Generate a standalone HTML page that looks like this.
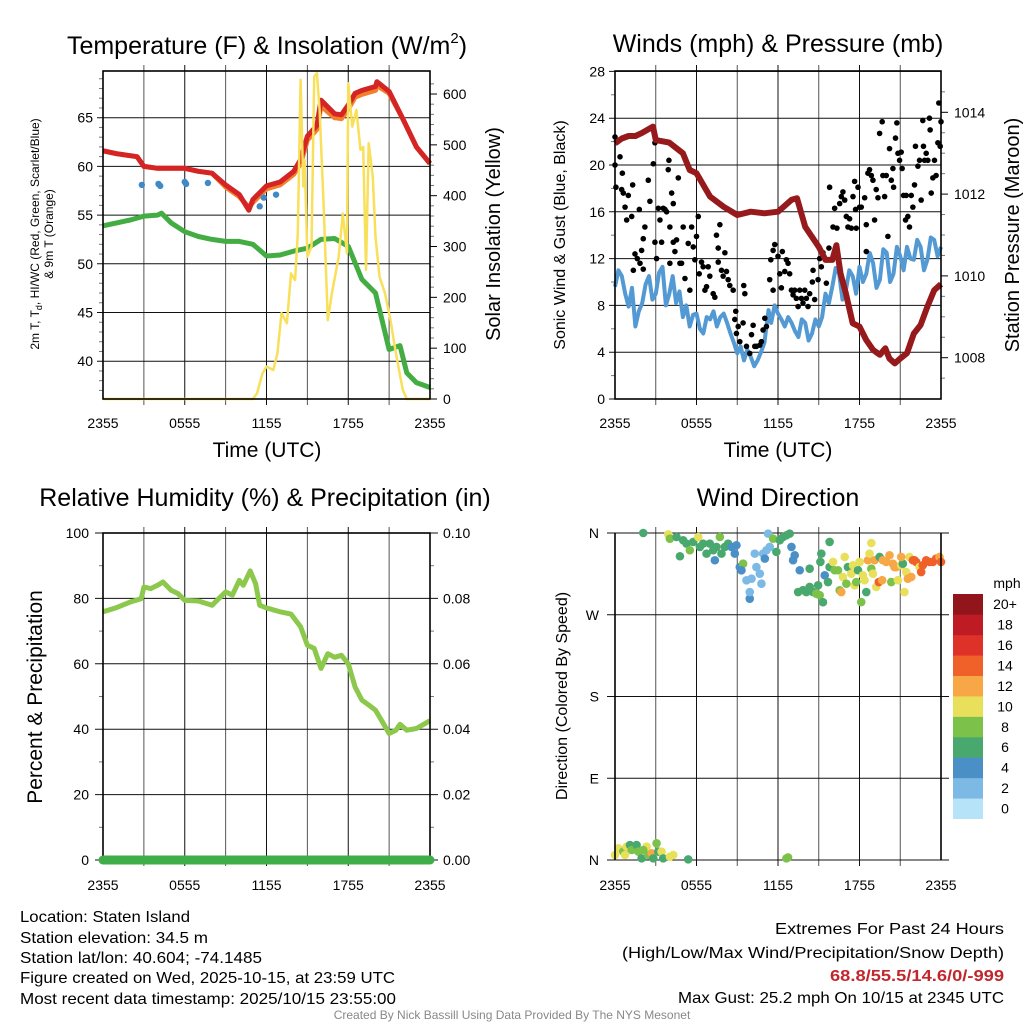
<!DOCTYPE html>
<html><head><meta charset="utf-8"><style>
html,body{margin:0;padding:0;background:#fff;}
svg{display:block;font-family:"Liberation Sans",Arial,sans-serif;}
</style></head><body>
<svg id="chart" width="1024" height="1024" viewBox="0 0 1024 1024" xmlns="http://www.w3.org/2000/svg">
<g id="g1"></g>
<g id="g2"></g>
<g id="g3"></g>
<g id="g4"></g>
<g font-size="16" fill="#000">
<text x="20" y="922" textLength="170" lengthAdjust="spacingAndGlyphs">Location: Staten Island</text>
<text x="20" y="943" textLength="188" lengthAdjust="spacingAndGlyphs">Station elevation: 34.5 m</text>
<text x="20" y="963" textLength="242" lengthAdjust="spacingAndGlyphs">Station lat/lon: 40.604; -74.1485</text>
<text x="20" y="983" textLength="375" lengthAdjust="spacingAndGlyphs">Figure created on Wed, 2025-10-15, at 23:59 UTC</text>
<text x="20" y="1004" textLength="376" lengthAdjust="spacingAndGlyphs">Most recent data timestamp: 2025/10/15 23:55:00</text>
<text x="1004" y="934" text-anchor="end" textLength="229" lengthAdjust="spacingAndGlyphs">Extremes For Past 24 Hours</text>
<text x="1004" y="958" text-anchor="end" textLength="382" lengthAdjust="spacingAndGlyphs">(High/Low/Max Wind/Precipitation/Snow Depth)</text>
<text x="1004" y="981" text-anchor="end" textLength="174" lengthAdjust="spacingAndGlyphs" font-weight="bold" fill="#c1272d">68.8/55.5/14.6/0/-999</text>
<text x="1004" y="1003" text-anchor="end" textLength="326" lengthAdjust="spacingAndGlyphs">Max Gust: 25.2 mph On 10/15 at 2345 UTC</text>
<text x="512" y="1019" text-anchor="middle" font-size="12" fill="#888">Created By Nick Bassill Using Data Provided By The NYS Mesonet</text>
</g>
</svg>
<script>
// ---------- DATA ----------
const tempHours=[0,1,2,2.5,3,4,5,6,7,8,9,10,10.7,11,12,13,14,14.5,15,15.7,16,17,17.5,18,18.5,19,20,20.1,21,22,23,24];
const tempRed=[61.6,61.3,61.1,61.0,60.0,59.8,59.8,59.8,59.5,59.3,58.1,57.1,55.5,56.6,58.0,58.4,59.5,60.7,63.1,64.2,66.8,65.4,65.3,66.3,67.5,67.8,68.2,68.7,67.7,64.9,62.0,60.3];
const tempOrange=[61.6,61.3,61.1,61.0,60.0,59.8,59.8,59.8,59.5,59.3,57.9,56.9,55.8,56.3,57.7,58.1,59.2,60.3,62.7,63.8,66.2,65.0,64.9,65.9,67.1,67.4,67.8,68.3,67.5,64.9,62.0,60.3];
const wcHours=[2.85,4.07,4.2,6.0,6.1,7.7,11.5,11.8,12.7];
const wcVals=[58.1,58.2,58.0,58.4,58.2,58.3,55.9,56.8,57.1];
const dewHours=[0,1,2,3,4,4.3,5,6,7,8,9,10,11,12,13,14,15,16,17,18,19,20,21,21.8,22.3,23,24];
const dewVals=[53.9,54.2,54.5,54.9,55.0,55.2,54.2,53.3,52.8,52.5,52.3,52.3,52.0,50.8,50.9,51.3,51.6,52.5,52.6,51.8,48.4,47.0,41.2,41.6,38.8,37.8,37.3];
const solarHours=[0,11,11.3,11.7,12,12.5,12.8,13.1,13.5,13.8,14.1,14.3,14.5,14.7,14.8,15,15.3,15.5,15.7,15.9,16.2,16.5,16.8,17.3,17.6,17.9,18,18.3,18.6,18.9,19.1,19.3,19.5,19.8,20,20.3,20.7,21.1,21.5,22,22.3,24];
const solarVals=[0,0,11,50,64,57,90,169,149,247,234,326,628,418,470,280,300,634,641,569,378,155,208,280,365,287,621,536,569,490,496,254,503,437,319,240,208,155,90,18,0,0];
const presHours=[0,0.5,1,1.5,2,2.8,3,4,5,5.5,6,7,8,9,10,11,12,13,13.4,14,15,15.5,16,16.3,16.6,17,17.5,18,18.5,19,19.5,19.9,20.2,20.6,21,21.5,22,22.5,23,23.5,24];
const presVals=[1013.24,1013.36,1013.42,1013.42,1013.5,1013.65,1013.32,1013.26,1013.0,1012.59,1012.51,1011.94,1011.69,1011.49,1011.57,1011.53,1011.57,1011.86,1011.9,1011.2,1010.71,1010.39,1010.39,1010.75,1010.06,1009.57,1008.84,1008.76,1008.43,1008.19,1008.07,1008.23,1007.98,1007.86,1007.98,1008.11,1008.59,1008.8,1009.25,1009.65,1009.8];
const windHours=[0,0.25,0.5,0.75,1,1.25,1.5,1.75,2,2.25,2.5,2.75,3,3.25,3.5,3.75,4,4.25,4.5,4.75,5,5.25,5.5,5.75,6,6.25,6.5,6.75,7,7.25,7.5,7.75,8,8.25,8.5,8.75,9,9.25,9.5,9.75,10,10.25,10.5,10.75,11,11.3,11.5,11.75,12,12.25,12.5,12.75,13,13.25,13.5,13.75,14,14.25,14.5,14.75,15,15.25,15.5,15.75,16,16.25,16.5,16.75,17,17.25,17.5,17.75,18,18.25,18.5,18.75,19,19.25,19.5,19.75,20,20.25,20.5,20.75,21,21.25,21.5,21.75,22,22.25,22.5,22.75,23,23.25,23.5,23.75,24];
const windVals=[9.6,11.0,10.5,9.0,7.9,9.5,6.2,7.5,8.2,9.8,10.5,8.5,9.0,10.8,11.3,8.0,9.0,10.5,8.2,9.2,7.0,8.0,6.2,7.2,7.3,6.0,5.6,7.0,6.8,7.5,6.2,7.0,7.3,6.5,5.6,4.8,3.9,4.5,3.3,4.2,3.6,2.8,3.3,4.0,4.8,7.6,6.5,8.0,7.3,6.8,6.2,7.0,6.5,5.8,5.3,6.8,6.5,5.0,5.6,6.8,6.2,7.0,9.0,8.2,9.6,11.2,10.7,8.5,9.3,11.0,10.5,9.0,11.3,10.0,10.7,12.5,11.6,9.5,10.2,12.8,12.5,10.0,10.7,13.0,12.2,11.0,13.0,12.0,11.9,13.6,13.0,11.0,11.9,13.8,13.6,12.2,13.0];
const gustHours=[0,0,0.37,0.07,0.49,0.54,0.61,0.98,1.3,0.74,0.86,1.23,1.79,1.47,1.64,1.84,1.35,1.96,2.08,2.08,2.2,2.45,2.57,2.82,2.94,2.94,3.06,3.19,3.31,3.43,3.55,3.68,3.8,3.92,3.97,4.04,4.04,4.17,4.29,4.29,4.41,4.53,4.66,4.78,4.9,5.02,5.15,5.39,5.51,5.64,5.76,5.88,6.0,6.13,6.2,6.37,6.49,6.62,6.74,6.86,6.98,7.23,7.35,7.47,7.6,7.6,7.72,7.84,7.96,8.09,8.21,8.33,8.45,8.7,8.82,8.89,8.94,9.07,9.19,9.43,9.48,9.56,9.68,9.92,10.05,10.17,10.29,10.41,10.66,10.78,10.9,11.03,11.15,11.39,11.47,11.64,11.64,11.76,12.0,12.13,12.25,12.32,12.5,12.62,12.74,12.86,12.99,13.11,13.23,13.35,13.48,13.6,13.72,13.84,13.97,14.09,14.21,14.33,14.53,14.58,14.7,14.95,15.07,15.19,15.31,15.56,15.75,15.8,16.05,16.17,16.34,16.54,16.66,16.78,16.91,17.03,17.15,17.27,17.4,17.52,17.64,17.71,17.76,17.89,18.01,18.13,18.38,18.5,18.5,18.62,18.74,18.87,18.99,19.11,19.23,19.36,19.48,19.67,19.72,19.85,19.97,20.09,20.21,20.34,20.46,20.51,20.65,20.75,20.83,20.95,21.07,21.14,21.24,21.39,21.44,21.56,21.68,21.81,21.93,22.05,22.12,22.3,22.42,22.54,22.66,22.71,22.79,22.91,23.03,23.15,23.2,23.28,23.4,23.52,23.64,23.77,23.84,23.94,24];
const gustVals=[22.4,20.0,20.7,18.1,17.9,19.3,17.6,17.4,18.3,16.4,15.3,15.6,16.2,12.4,12.0,11.6,11.0,12.7,13.7,11.1,14.7,18.7,16.9,20.1,21.9,13.4,12.0,16.3,15.3,13.4,16.3,16.2,16.0,19.6,20.4,14.7,11.6,17.6,16.7,13.4,12.6,13.6,18.9,11.6,11.6,14.7,10.3,13.3,9.3,14.7,13.0,11.9,13.9,15.6,10.7,11.7,11.3,9.3,9.6,11.3,10.5,9.0,8.7,14.0,12.9,11.7,14.9,11.0,10.5,12.5,10.9,10.2,9.7,9.3,6.8,7.5,5.6,6.2,4.9,6.5,9.7,9.0,4.5,3.9,5.5,6.3,4.5,4.5,4.6,4.9,5.9,6.9,6.2,10.2,11.9,9.3,12.7,13.2,12.2,10.7,9.5,12.6,10.9,11.9,11.6,10.7,9.3,8.9,9.3,8.6,7.9,9.3,8.6,8.2,9.3,8.6,7.9,9.0,10.0,11.0,8.5,10.2,12.0,11.3,12.5,9.9,12.9,18.1,14.7,16.3,14.6,16.7,17.3,17.7,17.0,15.6,14.7,15.4,14.6,17.3,18.6,16.2,14.6,18.1,16.4,16.4,17.2,12.6,14.9,19.3,19.6,19.1,18.7,15.3,17.9,17.2,22.7,23.7,19.1,17.3,19.1,13.9,21.4,18.7,19.7,18.1,22.3,23.6,21.0,20.4,21.1,19.7,17.4,15.3,17.4,15.6,14.7,17.4,16.4,18.3,21.6,19.9,20.4,17.0,23.8,21.6,20.4,21.0,20.4,24.0,23.0,17.6,18.9,20.4,19.1,21.9,25.3,21.6,23.7];
const rhHours=[0,1,2,2.8,3,3.5,4,4.4,5,5.5,6,7,8,9,9.5,10,10.3,10.8,11.2,11.5,12,13,13.8,14.5,15,15.5,16,16.5,17,17.5,18,18.5,19,19.5,20,20.5,21,21.5,21.8,22.3,23,24];
const rhVals=[75.9,77.2,78.9,79.9,83.5,83.0,84.0,85.0,82.5,81.5,79.4,79.2,77.9,82.0,81.0,85.5,84.0,88.4,84.5,77.9,77.1,75.9,75.2,71.3,65.7,64.7,58.6,63.1,62.0,62.6,60.0,52.9,48.9,47.4,45.8,42.3,38.7,39.7,41.5,39.7,40.2,42.6];
const precipHours=[0,24];
const precipVals=[0,0];
const dirHours=[2.08,3.92,4.04,4.53,4.78,5.02,5.27,5.51,5.76,6.13,6.25,6.49,6.74,6.98,7.23,7.35,7.47,7.72,7.84,8.09,8.33,8.58,8.82,8.94,9.19,9.43,9.31,9.68,9.92,9.92,10.05,10.29,10.41,10.66,10.78,10.9,11.03,11.15,11.27,11.39,11.64,11.88,12.13,12.37,12.62,12.86,12.99,13.11,13.23,13.48,13.6,13.84,14.09,14.33,14.33,14.58,14.82,14.95,15.07,15.12,15.19,15.31,15.44,15.68,15.8,15.8,16.05,16.17,16.42,16.54,16.66,16.78,16.91,17.03,17.15,17.4,17.52,17.64,17.76,17.89,18.01,18.13,18.25,18.38,18.5,18.62,18.74,18.87,18.99,19.11,19.23,19.42,19.48,19.67,19.72,19.97,20.21,20.34,20.46,20.58,20.7,20.83,21.07,21.19,21.31,21.44,21.56,21.68,21.81,21.93,22.05,22.17,22.42,22.54,22.66,22.91,23.15,23.4,23.64,23.89,24,18.87,21.07,
0,0.25,0.61,0.86,1.1,1.23,1.59,1.72,1.96,2.33,2.45,2.7,2.82,3.06,3.19,3.43,3.55,4.04,4.29,5.39,12.62,12.74,0.74,2.08];
const dirVals=[360,358.5,353.7,355.6,334.4,352,348.3,341,350.2,355.6,344.7,348.3,337.3,348.3,341,330,344.7,355.6,337.3,344.7,348.3,344.7,337.3,346.5,322.5,326.2,318.9,307.9,287.7,295,309.7,337.3,322.5,315.2,304.2,337.3,331.8,341,359.3,344.7,353.7,339.2,352,355.6,357.4,359.3,344.7,330,335.5,295,319,297,295,320.7,300.6,295,293.2,302.4,291.5,328.1,337.3,283.8,313.4,306,350.2,322.5,328.1,319,319,296.9,295,311.6,333.6,304.2,322.5,315.2,324.4,302.4,306,319,328.1,284,313.4,308,295,330,337.3,320.7,315.2,330,300.6,306,333.6,308,330,328.1,335.5,306,326.2,322.5,322.5,308,324.4,326.2,295,317,309.7,333.6,311.6,330,330,328.1,322.5,317,324.4,330,328.1,328.1,331.8,333.6,328.1,349,333.6,
5.5,12.9,9.2,14.7,16.5,11,16.5,9.2,1.8,14.7,5.5,7.4,1.8,18.4,9.2,9.2,1.8,3.7,5.5,0.7,1.8,2.9,5.5,11];
const dirSpeeds=[6,10,8,6,6,6,6,8,6,10,6,6,6,6,6,4,6,8,6,6,6,4,4,4,4,8,4,2,4,2,2,2,2,2,2,2,4,2,2,2,8,6,6,6,6,6,4,4,4,6,4,6,6,6,6,6,8,6,8,6,6,6,4,6,6,6,10,8,8,8,12,10,10,8,6,10,10,10,8,6,10,8,10,10,6,12,10,8,10,12,10,14,6,12,12,12,12,8,12,12,12,10,10,6,10,10,12,10,12,14,14,14,10,14,14,14,14,14,14,12,14,10,12,
10,10,8,10,6,8,6,8,6,10,8,12,6,8,6,10,6,10,10,6,8,8,10,8];
const cbLabels=["0","2","4","6","8","10","12","14","16","18","20+"];
const cbColors=["#b6e3f8","#7db9e5","#4a8fc6","#49a86e","#7cc24a","#e8e05a","#f7a746","#f0612a","#de3128","#bf1b25","#93151c"];
const hourTicks=["2355","0555","1155","1755","2355"];

// ---------- HELPERS ----------
const NS="http://www.w3.org/2000/svg";
function mk(parent,tag,attrs){const e=document.createElementNS(NS,tag);for(const k in attrs)e.setAttribute(k,attrs[k]);parent.appendChild(e);return e;}
function txt(parent,x,y,s,size,anchor,rot){const t=mk(parent,"text",{x:x,y:y,"font-size":size,"text-anchor":anchor||"middle",fill:"#000"});if(rot)t.setAttribute("transform","rotate(-90 "+x+" "+y+")");t.textContent=s;return t;}
function linePath(xs,ys,sx,sy){return xs.map((h,i)=>(i?"L":"M")+sx(h).toFixed(1)+","+sy(ys[i]).toFixed(1)).join("");}
function frame(g,x0,y0,x1,y1){
  for(let k=1;k<8;k++){const x=x0+(x1-x0)*k/8;const l=mk(g,"line",{x1:x,y1:y0-6,x2:x,y2:y1+6,stroke:k%2?"#555":"#111","stroke-width":1});
    
    }
}
function border(g,x0,y0,x1,y1){
  const r=mk(g,"rect",{x:x0,y:y0,width:x1-x0,height:y1-y0,fill:"none",stroke:"#000","stroke-width":1.6});
  
  
}
function xlabels(g,x0,x1,y){
  hourTicks.forEach((s,i)=>{const t=txt(g,x0+(x1-x0)*i/4,y,s,14);
    
    });
}
function hgrid(g,x0,x1,y,extL,extR){const l=mk(g,"line",{x1:x0-extL,y1:y,x2:x1+extR,y2:y,stroke:"#111","stroke-width":1});
  
  }
function minor(g,x,y,len){mk(g,"line",{x1:x,y1:y,x2:x+len,y2:y,stroke:"#777","stroke-width":1});}

// ---------- PANEL 1 ----------
(function(){
  const g=document.getElementById("g1");
  const X0=103,X1=430,Y0=71,Y1=399;
  const sx=h=>X0+(X1-X0)*h/24;
  const sy=v=>117.7+(65-v)*9.74;
  const sr=v=>399-v*0.5083;
  frame(g,X0,Y0,X1,Y1);
  [40,45,50,55,60,65].forEach(v=>{hgrid(g,X0,X1,sy(v),6,0);const t=txt(g,X0-10,sy(v)+5,String(v),14,"end");
    
    });
  for(let v=37;v<=69;v++) if(v%5) minor(g,X0-4,sy(v),4);
  [0,100,200,300,400,500,600].forEach(v=>{mk(g,"line",{x1:X1,y1:sr(v),x2:X1+7,y2:sr(v),stroke:"#000"});const t=txt(g,X1+13,sr(v)+5,String(v),14,"start");
    
    });
  for(let v=20;v<640;v+=20) if(v%100) minor(g,X1,sr(v),4);
  let p;
  p=mk(g,"path",{d:linePath(dewHours,dewVals,sx,sy),fill:"none",stroke:"#43ad43","stroke-width":5,"stroke-linejoin":"round"});
  
  p=mk(g,"path",{d:linePath(tempHours,tempOrange,sx,sy),fill:"none",stroke:"#f47f2b","stroke-width":5,"stroke-linejoin":"round"});
  
  p=mk(g,"path",{d:linePath(tempHours,tempRed,sx,sy),fill:"none",stroke:"#d42425","stroke-width":5,"stroke-linejoin":"round"});
  
  wcHours.forEach((h,i)=>{const c=mk(g,"circle",{cx:sx(h),cy:sy(wcVals[i]),r:3.2,fill:"#3f8ac6"});
    });
  p=mk(g,"path",{d:linePath(solarHours,solarVals,sx,sr),fill:"none",stroke:"#f8e05a","stroke-width":2.5,"stroke-linejoin":"round"});
  
  border(g,X0,Y0,X1,Y1);
  xlabels(g,X0,X1,428);
  let t=txt(g,267,457,"Time (UTC)",21);
  t=mk(g,"text",{x:267,y:54,"font-size":25,"text-anchor":"middle"});t.innerHTML='Temperature (F) &amp; Insolation (W/m<tspan font-size="15" dy="-11">2</tspan><tspan dy="11">)</tspan>';
  
  t=mk(g,"text",{x:39,y:234,"font-size":12,"text-anchor":"middle",transform:"rotate(-90 39 234)"});t.innerHTML='2m T, T<tspan font-size="9" dy="3">d</tspan><tspan dy="-3">, HI/WC (Red, Green, Scarlet/Blue)</tspan>';
  
  t=txt(g,53,234,"& 9m T (Orange)",12,"middle",true);
  t=txt(g,500,234,"Solar Insolation (Yellow)",20,"middle",true);
})();

// ---------- PANEL 2 ----------
(function(){
  const g=document.getElementById("g2");
  const X0=615,X1=941,Y0=71,Y1=399;
  const sx=h=>X0+(X1-X0)*h/24;
  const sy=v=>399-v*11.7;
  const sp=v=>357.7-(v-1008)*40.9;
  frame(g,X0,Y0,X1,Y1);
  [0,4,8,12,16,20,24,28].forEach(v=>{hgrid(g,X0,X1,sy(v),6,0);const t=txt(g,X0-10,sy(v)+5,String(v),14,"end");
    });
  for(let v=2;v<28;v+=4) minor(g,X0-4,sy(v),4);
  [1008,1010,1012,1014].forEach(v=>{mk(g,"line",{x1:X1,y1:sp(v),x2:X1+7,y2:sp(v),stroke:"#000"});const t=txt(g,X1+13,sp(v)+5,String(v),14,"start");
    });
  for(let v=1007.5;v<1015;v+=0.5) if(v%2) minor(g,X1,sp(v),4);
  let p=mk(g,"path",{d:linePath(windHours,windVals,sx,sy),fill:"none",stroke:"#5399d3","stroke-width":4,"stroke-linejoin":"round"});
  
  gustHours.forEach((h,i)=>{const c=mk(g,"circle",{cx:sx(h),cy:sy(gustVals[i]),r:2.8,fill:"#000"});
    });
  p=mk(g,"path",{d:linePath(presHours,presVals,sx,sp),fill:"none",stroke:"#961a1c","stroke-width":6,"stroke-linejoin":"round"});
  
  border(g,X0,Y0,X1,Y1);
  xlabels(g,X0,X1,428);
  let t=txt(g,778,457,"Time (UTC)",21);
  t=txt(g,778,52,"Winds (mph) & Pressure (mb)",25);
  t=txt(g,565,235,"Sonic Wind & Gust (Blue, Black)",16,"middle",true);
  t=txt(g,1019,235,"Station Pressure (Maroon)",20,"middle",true);
})();

// ---------- PANEL 3 ----------
(function(){
  const g=document.getElementById("g3");
  const X0=103,X1=430,Y0=533,Y1=860;
  const sx=h=>X0+(X1-X0)*h/24;
  const sy=v=>Y1-(Y1-Y0)*v/100;
  const sq=v=>Y1-(Y1-Y0)*v/0.1;
  frame(g,X0,Y0,X1,Y1);
  [0,20,40,60,80,100].forEach(v=>{hgrid(g,X0,X1,sy(v),8,8);const t=txt(g,X0-14,sy(v)+5,String(v),14,"end");
    });
  for(let v=10;v<100;v+=20){minor(g,X0-4,sy(v),4);minor(g,X1,sy(v),4);}
  ["0.00","0.02","0.04","0.06","0.08","0.10"].forEach((s,i)=>{const t=txt(g,X1+13,sq(i*0.02)+5,s,14,"start");
    });
  let p=mk(g,"path",{d:linePath(rhHours,rhVals,sx,sy),fill:"none",stroke:"#8cc84b","stroke-width":5,"stroke-linejoin":"round"});
  
  border(g,X0,Y0,X1,Y1);
  p=mk(g,"path",{d:linePath(precipHours,precipVals,sx,sq),fill:"none",stroke:"#3fae49","stroke-width":9,"stroke-linecap":"round"});
  
  xlabels(g,X0,X1,890);
  let t=txt(g,265,506,"Relative Humidity (%) & Precipitation (in)",25);
  t=txt(g,42,697,"Percent & Precipitation",21,"middle",true);
})();

// ---------- PANEL 4 ----------
(function(){
  const g=document.getElementById("g4");
  const X0=615,X1=941,Y0=533,Y1=860;
  const sx=h=>X0+(X1-X0)*h/24;
  const sy=v=>Y1-(Y1-Y0)*v/360;
  frame(g,X0,Y0,X1,Y1);
  const dl=["N","E","S","W","N"];
  dl.forEach((s,i)=>{hgrid(g,X0,X1,sy(i*90),8,8);const t=txt(g,X0-16,sy(i*90)+5,s,14,"end");
    });
  dirHours.forEach((h,i)=>{const idx=Math.min(10,Math.floor(dirSpeeds[i]/2));
    const c=mk(g,"circle",{cx:sx(h),cy:sy(dirVals[i]),r:4.3,fill:cbColors[idx]});
    });
  mk(g,"line",{x1:X0,y1:Y0,x2:X0,y2:Y1,stroke:"#000","stroke-width":1.6});
  mk(g,"line",{x1:X1,y1:Y0,x2:X1,y2:Y1,stroke:"#000","stroke-width":1.6});
  xlabels(g,X0,X1,890);
  let t=txt(g,778,506,"Wind Direction",25);
  t=txt(g,567,696,"Direction (Colored By Speed)",16,"middle",true);
  const cb=mk(g,"g",{});
  
  const bh=(818.7-594)/11;
  cbColors.forEach((c,i)=>{const y=818.7-(i+1)*bh;
    const r=mk(cb,"rect",{x:953,y:y,width:30,height:bh+0.3,fill:c});
    
    const tt=txt(cb,1005,y+bh/2+5,cbLabels[i],14);
    });
  t=txt(cb,1007,588,"mph",14);
})();
</script>
</body></html>
